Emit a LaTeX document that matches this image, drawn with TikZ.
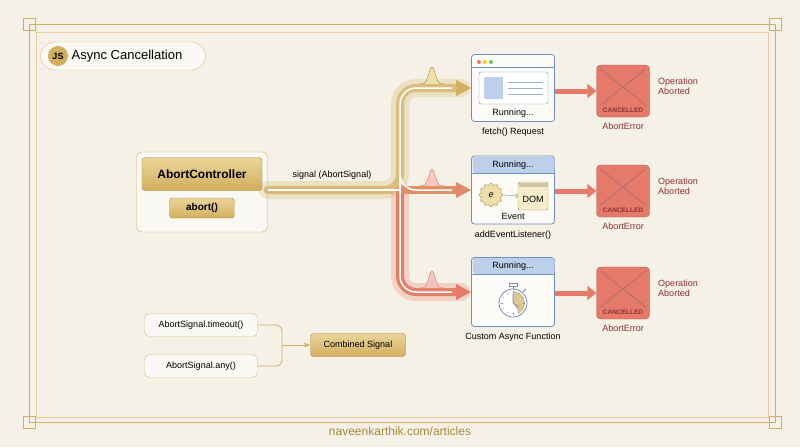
\documentclass[tikz,border=0pt]{standalone}
\usepackage{fontspec}
\setmainfont{Liberation Sans}
\usetikzlibrary{shapes.geometric, arrows.meta}
\definecolor{bg}{HTML}{F5F1E6}
\definecolor{gold}{HTML}{D2AE5E}
\definecolor{golddk}{HTML}{A8893F}
\definecolor{goldlt}{HTML}{F0DFA8}
\definecolor{redc}{HTML}{E5796A}
\definecolor{reddk}{HTML}{8E3030}
\definecolor{bluec}{HTML}{BCD0EC}
\definecolor{bluedk}{HTML}{6F8FBF}
\tikzstyle{goldbox} = [rectangle, rounded corners=3pt, draw=golddk, top color=goldlt!80!gold, bottom color=gold, text=black, font=\bfseries]
\tikzstyle{pill} = [rectangle, rounded corners=5pt, draw=gold!80, fill=white!60!bg, font=\fontsize{9}{10}\selectfont]
\tikzstyle{task} = [rectangle, rounded corners=3pt, draw=bluedk, fill=white!70!bg, minimum width=83pt, thick]
\tikzstyle{cancel} = [rectangle, rounded corners=4pt, draw=redc!80!black, fill=redc, minimum width=53pt, minimum height=52pt]
\tikzstyle{lbl} = [font=\fontsize{9}{10}\selectfont]
\tikzstyle{sig} = [line width=8pt, line cap=round, rounded corners=16pt]
\tikzstyle{glow} = [line width=18pt, line cap=round, rounded corners=16pt, opacity=0.25]
\tikzstyle{redarrow} = [redc, line width=5pt, -{Triangle[length=9pt,width=14pt]}]
\begin{document}
\begin{tikzpicture}[x=1pt, y=-1pt]
  \fill[bg] (0,0) rectangle (800,447);
  \useasboundingbox (0,0) rectangle (800,447);
  % frame
  \draw[gold, line width=1pt] (29,24) rectangle (775,422);
  \draw[gold!60, line width=1pt] (36,32) rectangle (768,417);
  \foreach \cx/\cy in {29/24, 775/24, 29/422, 775/422}
    \draw[gold, line width=1pt] (\cx-6,\cy-6) rectangle (\cx+6,\cy+6);
  % title
  \node[pill, rounded corners=14pt, minimum width=165pt, minimum height=28pt] (title) at (123,56) {};
  \node[circle, fill=gold, minimum size=20pt, inner sep=0pt, font=\fontsize{9}{10}\selectfont\bfseries] (js) at (58,56) {JS};
  \node[anchor=west, font=\fontsize{13}{14}\selectfont] (ttl) at (js.east) {Async Cancellation};
  % controller
  \node[rectangle, rounded corners=5pt, draw=gold, fill=white!50!bg, minimum width=131pt, minimum height=80pt] (ctrl) at (202,192) {};
  \node[goldbox, minimum width=120pt, minimum height=33pt, font=\fontsize{12}{13}\selectfont\bfseries] (ac) at (202,174) {AbortController};
  \node[goldbox, minimum width=65pt, minimum height=20pt, font=\fontsize{10}{11}\selectfont\bfseries] (ab) at (202,208) {abort()};
  % tasks
  \node[task, minimum height=67pt] (fetch) at (513,88) {};
  \node[task, minimum height=68pt] (evt) at (513,190) {};
  \node[task, minimum height=69pt] (cust) at (513,292) {};
  \coordinate (fork) at (400,190);
  % signal branches
  \draw[glow, gold] (ctrl.east |- fork) -- (fork) -- (400,88) -- ([xshift=-10pt]fetch.west);
  \draw[glow, redc] (fork) -- (400,292) -- ([xshift=-10pt]cust.west);
  \draw[sig, gold!80] (ctrl.east |- fork) -- (fork) -- (400,88) -- ([xshift=-10pt]fetch.west);
  \draw[sig, redc!90!gold] (fork) -- (400,292) -- ([xshift=-10pt]cust.west);
  \draw[sig, redc!55!gold] (fork) -- ([xshift=-10pt]evt.west);
  \draw[sig, gold!85] (ctrl.east |- fork) -- (392,190);
  \foreach \yy in {88,190,292}
    \draw[white, line width=1.5pt, rounded corners=16pt] (400,190) -- (400,\yy) -- (452,\yy);
  \draw[white, line width=1.5pt] (ctrl.east |- fork) -- (fork);
  \foreach \yy/\cc in {88/gold, 190/redc!70!gold, 292/redc}
    \fill[\cc] (456,\yy-8) -- (471,\yy) -- (456,\yy+8) -- cycle;
  \foreach \yy/\cc/\dd in {88/goldlt/golddk, 190/redc!40/redc, 292/redc!45/redc}
    \draw[\dd, fill=\cc] plot[domain=-13:13, samples=30] ({432+\x},{\yy-4-17*exp(-(\x/4.5)^2)});
  \node[lbl, anchor=south] (sl) at (332,183) {signal (AbortSignal)};
  % fetch card
  \foreach \dx/\cc in {0/red!60, 6/yellow!70!orange, 12/green!60!black!60}
    \fill[\cc] (479+\dx,62) circle (2pt);
  \draw[bluedk] (472,67) -- (555,67);
  \draw[bluedk, fill=white, rounded corners=2pt] (479,72) rectangle (548,104);
  \fill[bluec, rounded corners=1pt] (484,77) rectangle (503,99);
  \foreach \ly in {82,88,94}
    \draw[bluedk!70] (508,\ly) -- (543,\ly);
  \node[lbl] (fr) at (513,113) {Running...};
  \node[lbl, below=3pt] (fl) at (fetch.south) {fetch() Request};
  % event card
  \fill[bluec, rounded corners=3pt] (472.5,156.5) rectangle (554.5,173);
  \draw[bluedk] (472,173) -- (555,173);
  \node[lbl] (er) at (513,165) {Running...};
  \node[star, star points=12, star point ratio=1.2, draw=golddk, fill=goldlt, minimum size=24pt, inner sep=0pt, font=\itshape\small] (gear) at (491,195) {e};
  \node[rectangle, rounded corners=2pt, draw=golddk, fill=goldlt!60, minimum width=30pt, minimum height=28pt] (dom) at (533,196) {};
  \fill[golddk!50] (518.5,182.5) rectangle (547.5,187);
  \node[lbl] (dt) at (533,199) {DOM};
  \draw[->, gray] (gear.east) -- (dom.west);
  \node[lbl] (et) at (513,216) {Event};
  \node[lbl, below=3pt] (el) at (evt.south) {addEventListener()};
  % custom card
  \fill[bluec, rounded corners=3pt] (472.5,258) rectangle (554.5,274);
  \draw[bluedk] (472,274) -- (555,274);
  \node[lbl] (cr) at (513,266) {Running...};
  \draw[bluedk, fill=white, thick] (513,303) circle (14pt);
  \fill[gold!70] (513,303) -- (513,291) arc[start angle=90, end angle=-60, radius=12pt] -- cycle;
  \foreach \a in {0,30,...,330}
    \draw[bluedk] (513,303) ++(\a:10pt) -- ++(\a:2pt);
  \draw[bluedk, thick] (513,289) -- (513,285);
  \draw[bluedk, fill=white] (509,283) rectangle (517,286);
  \draw[bluedk, thick] (523,292) -- (526,289);
  \draw[bluedk, thick] (513,303) -- (513,294) (513,303) -- (519,307);
  \node[lbl, below=3pt] (cl) at (cust.south) {Custom Async Function};
  % cancelled
  \foreach \nm/\tk/\yy in {ca/fetch/91, cb/evt/191, cc/cust/293} {
    \node[cancel] (\nm) at (623,\yy) {};
    \draw[reddk!70, thick] ([shift={(4,4)}]\nm.north west) -- ([shift={(-4,-12)}]\nm.south east);
    \draw[reddk!70, thick] ([shift={(-4,4)}]\nm.north east) -- ([shift={(4,-12)}]\nm.south west);
    \node[font=\fontsize{6.5}{7}\selectfont\bfseries, text=reddk] at ([yshift=7pt]\nm.south) {CANCELLED};
    \node[lbl, text=reddk, below=2pt] at (\nm.south) {AbortError};
    \node[lbl, text=reddk, anchor=west, align=left] at ([xshift=5pt, yshift=5pt]\nm.east) {Operation\\Aborted};
    \draw[redarrow] (\tk.east |- \nm.west) -- (\nm.west);
  }
  % combined signal
  \node[pill, minimum width=113pt, minimum height=23pt] (to) at (201,325) {AbortSignal.timeout()};
  \node[pill, minimum width=113pt, minimum height=23pt] (any) at (201,366) {AbortSignal.any()};
  \node[goldbox, minimum width=95pt, minimum height=23pt, font=\fontsize{9}{10}\selectfont] (comb) at (358,345) {Combined Signal};
  \draw[gold, thick, rounded corners=6pt] (to.east) -- (282,325) -- (282,366) -- (any.east);
  \draw[gold, thick, -{Stealth}] (282,345) -- (comb.west);
  % footer
  \node[font=\fontsize{12}{13}\selectfont, text=golddk] (foot) at (400,431) {naveenkarthik.com/articles};
\end{tikzpicture}
\end{document}
